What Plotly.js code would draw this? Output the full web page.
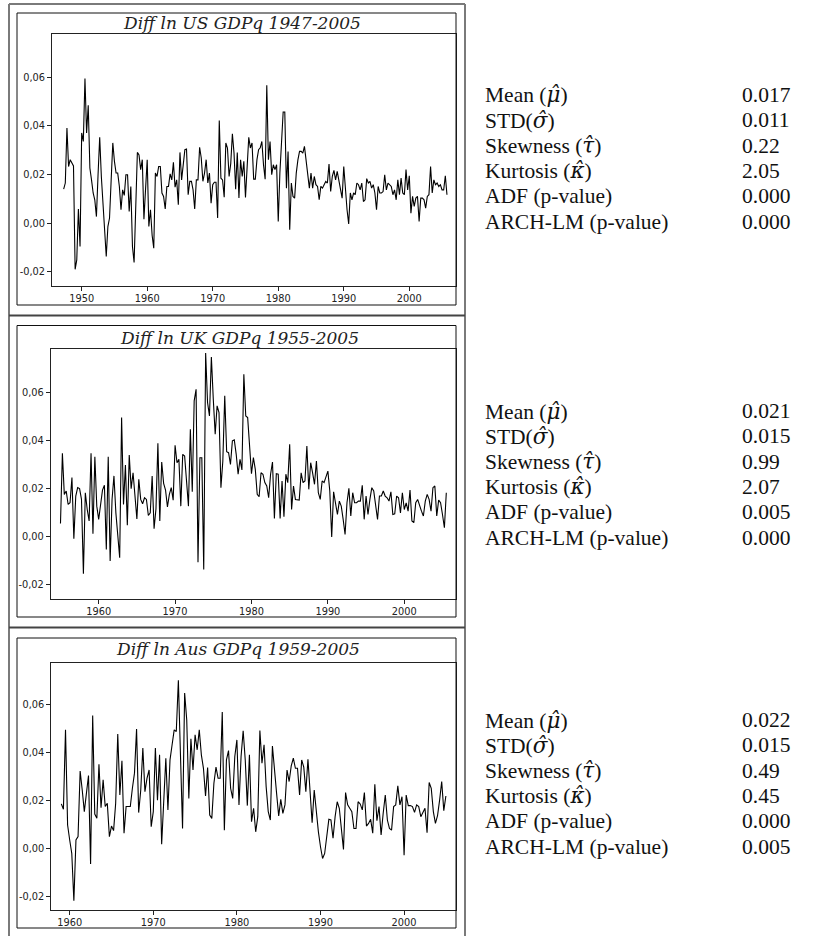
<!DOCTYPE html>
<html>
<head>
<meta charset="utf-8">
<script src="https://cdn.plot.ly/plotly-3.0.1.min.js"></script>
<style>html,body{margin:0;padding:0;background:#fff;}#chart{width:830px;height:936px;}</style>
</head>
<body>
<div id="chart"></div>
<script>
// ---------- DATA ----------
const titles = ["Diff ln US GDPq 1947-2005", "Diff ln UK GDPq 1955-2005", "Diff ln Aus GDPq 1959-2005"];
const startYears = [1947.25, 1955.0, 1959.0];

const usGdp = [
  0.0140, 0.0165, 0.0391, 0.0233, 0.0261, 0.0247, 0.0235, -0.0190, -0.0151, 0.0058,
  -0.0096, 0.0371, 0.0336, 0.0595, 0.0371, 0.0485, 0.0227, 0.0178, 0.0124, 0.0096,
  0.0027, 0.0200, 0.0353, 0.0192, 0.0069, -0.0041, -0.0137, -0.0014, 0.0021, 0.0178,
  0.0330, 0.0254, 0.0206, 0.0206, 0.0151, 0.0055, 0.0137, 0.0114, 0.0199, 0.0199,
  0.0048, 0.0151, -0.0096, -0.0162, 0.0096, 0.0291, 0.0281, 0.0220, 0.0261, 0.0016,
  0.0140, 0.0261, -0.0014, 0.0055, -0.0050, -0.0103, 0.0206, 0.0192, 0.0233, 0.0233,
  0.0124, 0.0110, 0.0058, 0.0151, 0.0151, 0.0203, 0.0178, 0.0250, 0.0148, 0.0178,
  0.0076, 0.0291, 0.0178, 0.0247, 0.0302, 0.0305, 0.0117, 0.0172, 0.0172, 0.0137,
  0.0058, 0.0178, 0.0178, 0.0312, 0.0268, 0.0172, 0.0206, 0.0261, 0.0165, 0.0206,
  0.0082, 0.0158, 0.0168, 0.0168, 0.0021, 0.0422, 0.0185, 0.0178, 0.0107, 0.0330,
  0.0309, 0.0192, 0.0245, 0.0368, 0.0288, 0.0140, 0.0291, 0.0103, 0.0261, 0.0192,
  0.0254, 0.0106, 0.0220, 0.0353, 0.0309, 0.0330, 0.0181, 0.0181, 0.0261, 0.0302,
  0.0310, 0.0336, 0.0240, 0.0181, 0.0567, 0.0261, 0.0336, 0.0199, 0.0240, 0.0220,
  0.0240, 0.0007, 0.0206, 0.0330, 0.0457, 0.0457, 0.0144, 0.0295, -0.0027, 0.0165,
  0.0110, 0.0103, 0.0206, 0.0260, 0.0295, 0.0295, 0.0288, 0.0316, 0.0254, 0.0213,
  0.0144, 0.0206, 0.0144, 0.0192, 0.0158, 0.0151, 0.0096, 0.0151, 0.0144, 0.0158,
  0.0172, 0.0165, 0.0243, 0.0130, 0.0192, 0.0217, 0.0178, 0.0213, 0.0172, 0.0137,
  0.0103, 0.0233, 0.0137, 0.0055, -0.0003, 0.0124, 0.0096, 0.0124, 0.0117, 0.0165,
  0.0158, 0.0137, 0.0165, 0.0089, 0.0096, 0.0183, 0.0165, 0.0172, 0.0144, 0.0158,
  0.0124, 0.0055, 0.0151, 0.0124, 0.0124, 0.0130, 0.0199, 0.0137, 0.0165, 0.0158,
  0.0151, 0.0117, 0.0137, 0.0096, 0.0178, 0.0117, 0.0185, 0.0124, 0.0117, 0.0220,
  0.0137, 0.0195, 0.0041, 0.0110, 0.0069, 0.0103, 0.0110, 0.0007, 0.0103, 0.0103,
  0.0096, 0.0062, 0.0110, 0.0117, 0.0233, 0.0124, 0.0178, 0.0158, 0.0165, 0.0151,
  0.0158, 0.0137, 0.0137, 0.0195, 0.0117
];

const ukGdp = [
  0.0053, 0.0345, 0.0174, 0.0188, 0.0132, 0.0139, 0.0244, -0.0011, 0.0167, 0.0202,
  0.0198, 0.0153, -0.0157, 0.0181, 0.0111, 0.0063, 0.0345, 0.0010, 0.0331, 0.0125,
  0.0070, 0.0139, 0.0192, 0.0212, -0.0056, 0.0331, -0.0104, 0.0153, 0.0251, 0.0097,
  0.0014, -0.0090, 0.0494, 0.0132, 0.0296, 0.0045, 0.0338, 0.0198, 0.0264, 0.0150,
  0.0072, 0.0237, 0.0153, 0.0135, 0.0160, 0.0153, 0.0086, 0.0097, 0.0251, 0.0031,
  0.0114, 0.0387, 0.0063, 0.0309, 0.0220, 0.0192, 0.0122, 0.0174, 0.0202, 0.0150,
  0.0379, 0.0306, 0.0320, 0.0125, 0.0341, 0.0334, 0.0237, 0.0125, 0.0445, 0.0185,
  0.0564, 0.0612, -0.0109, 0.0327, 0.0327, -0.0139, 0.0763, 0.0557, 0.0501, 0.0747,
  0.0571, 0.0425, 0.0543, 0.0515, 0.0202, 0.0313, 0.0585, 0.0352, 0.0348, 0.0299,
  0.0397, 0.0401, 0.0341, 0.0258, 0.0320, 0.0276, 0.0675, 0.0501, 0.0494, 0.0369,
  0.0260, 0.0327, 0.0278, 0.0174, 0.0164, 0.0264, 0.0258, 0.0223, 0.0209, 0.0160,
  0.0258, 0.0309, 0.0074, 0.0260, 0.0258, 0.0074, 0.0230, 0.0081, 0.0258, 0.0223,
  0.0383, 0.0111, 0.0209, 0.0153, 0.0153, 0.0150, 0.0264, 0.0223, 0.0230, 0.0376,
  0.0195, 0.0306, 0.0264, 0.0216, 0.0313, 0.0181, 0.0153, 0.0230, 0.0223, 0.0251,
  0.0271, 0.0188, -0.0004, 0.0185, 0.0132, 0.0090, 0.0146, 0.0125, 0.0070, 0.0007,
  0.0139, 0.0199, 0.0084, 0.0181, 0.0139, 0.0139, 0.0146, 0.0146, 0.0212, 0.0070,
  0.0167, 0.0090, 0.0153, 0.0202, 0.0188, 0.0118, 0.0070, 0.0167, 0.0167, 0.0188,
  0.0167, 0.0160, 0.0146, 0.0185, 0.0090, 0.0093, 0.0167, 0.0160, 0.0097, 0.0181,
  0.0111, 0.0139, 0.0104, 0.0192, 0.0063, 0.0056, 0.0139, 0.0153, 0.0125, 0.0104,
  0.0084, 0.0146, 0.0174, 0.0153, 0.0104, 0.0202, 0.0209, 0.0084, 0.0150, 0.0139,
  0.0090, 0.0035, 0.0181
];

const ausGdp = [
  0.0185, 0.0163, 0.0493, 0.0097, 0.0035, -0.0021, -0.0218, 0.0035, 0.0049, 0.0322,
  0.0243, 0.0153, 0.0229, 0.0303, -0.0065, 0.0553, 0.0143, 0.0125, 0.0350, 0.0169,
  0.0285, 0.0174, 0.0188, 0.0049, 0.0093, 0.0074, 0.0188, 0.0476, 0.0222, 0.0364,
  0.0063, 0.0174, 0.0174, 0.0174, 0.0250, 0.0313, 0.0496, 0.0149, 0.0243, 0.0417,
  0.0236, 0.0292, 0.0326, 0.0090, 0.0153, 0.0417, 0.0200, 0.0389, 0.0017, 0.0181,
  0.0375, 0.0160, 0.0368, 0.0431, 0.0493, 0.0486, 0.0699, 0.0390, 0.0083, 0.0646,
  0.0535, 0.0208, 0.0456, 0.0326, 0.0472, 0.0410, 0.0493, 0.0389, 0.0333, 0.0218,
  0.0336, 0.0139, 0.0125, 0.0271, 0.0338, 0.0292, 0.0292, 0.0567, 0.0076, 0.0368,
  0.0407, 0.0250, 0.0208, 0.0382, 0.0451, 0.0181, 0.0382, 0.0489, 0.0368, 0.0178,
  0.0389, 0.0111, 0.0167, 0.0069, 0.0132, 0.0490, 0.0354, 0.0431, 0.0257, 0.0153,
  0.0118, 0.0426, 0.0340, 0.0229, 0.0135, 0.0204, 0.0146, 0.0181, 0.0326, 0.0278,
  0.0343, 0.0375, 0.0333, 0.0333, 0.0222, 0.0368, 0.0338, 0.0236, 0.0371, 0.0250,
  0.0107, 0.0243, 0.0153, 0.0069, 0.0007, -0.0042, -0.0021, 0.0049, 0.0121, 0.0118,
  0.0042, 0.0132, 0.0194, 0.0167, 0.0090, -0.0004, 0.0232, 0.0181, 0.0167, 0.0153,
  0.0083, 0.0083, 0.0194, 0.0185, 0.0160, 0.0232, 0.0093, 0.0104, 0.0121, 0.0063,
  0.0267, 0.0115, 0.0174, 0.0056, 0.0146, 0.0222, 0.0118, 0.0083, 0.0076, 0.0174,
  0.0181, 0.0260, 0.0181, 0.0215, -0.0028, 0.0222, 0.0178, 0.0178, 0.0174, 0.0150,
  0.0181, 0.0174, 0.0132, 0.0153, 0.0167, 0.0065, 0.0274, 0.0250, 0.0153, 0.0104,
  0.0136, 0.0201, 0.0278, 0.0157, 0.0218
];

const yTickVals = [-0.02, 0.00, 0.02, 0.04, 0.06];
const yTickText = ["-0,02", "0,00", "0,02", "0,04", "0,06"];
const xTickVals = [1950, 1960, 1970, 1980, 1990, 2000];
const xTickText = ["1950", "1960", "1970", "1980", "1990", "2000"];

const G = s => '<span style="font-family:DejaVu Serif">' + s + '</span>';
const statLabels = ["Mean (" + G("<i>μ̂</i>") + ")", "STD(" + G("<i>σ̂</i>") + ")", "Skewness (" + G("<i>τ̂</i>") + ")",
                    "Kurtosis (" + G("<i>κ̂</i>") + ")", "ADF (p-value)", "ARCH-LM (p-value)"];
const usStats  = ["0.017", "0.011", "0.22", "2.05", "0.000", "0.000"];
const ukStats  = ["0.021", "0.015", "0.99", "2.07", "0.005", "0.000"];
const ausStats = ["0.022", "0.015", "0.49", "0.45", "0.000", "0.005"];

// ---------- LAYOUT ----------
const W = 830, H = 936;
const px = v => v / W;
const py = v => 1 - v / H;

const series = [usGdp, ukGdp, ausGdp];
const stats = [usStats, ukStats, ausStats];
// plot areas in pixels [left, right, top, bottom]
const boxes = [[52, 456, 34, 285.5], [50.7, 456, 349, 598.5], [51.3, 456, 662.5, 909.5]];
const xRanges = [[1945.47, 2007.13], [1953.72, 2006.77], [1957.80, 2006.21]];
const yRanges = [[-0.02565, 0.0778], [-0.0260, 0.0780], [-0.0254, 0.0773]];
const frames = [[17, 456, 13, 305], [17, 456, 325.5, 617], [17, 456, 638, 928]];
const titleY = [23, 338, 649];
const titleX = [242, 239, 238];
const statTop = [95, 411, 720];
const statStep = 25.3;

const traces = [];
const layout = {
  width: W, height: H,
  margin: {l: 0, r: 0, t: 0, b: 0},
  paper_bgcolor: "#fff", plot_bgcolor: "#fff",
  showlegend: false,
  annotations: [], shapes: []
};

series.forEach((vals, i) => {
  const sfx = i === 0 ? "" : String(i + 1);
  const xs = vals.map((_, k) => startYears[i] + k / 4);
  traces.push({
    type: "scatter", mode: "lines", x: xs, y: vals,
    xaxis: "x" + sfx, yaxis: "y" + sfx,
    line: {color: "#000", width: 1.1}, hoverinfo: "skip"
  });
  const b = boxes[i];
  const axCommon = {
    showgrid: false, zeroline: false, showline: true, mirror: true,
    linecolor: "#222", linewidth: 1, ticks: "outside", ticklen: 4, tickcolor: "#222",
    tickfont: {family: "DejaVu Sans, Verdana, sans-serif", size: 9.8, color: "#222"}
  };
  layout["xaxis" + sfx] = Object.assign({}, axCommon, {
    domain: [px(b[0]), px(b[1])], range: xRanges[i], anchor: "y" + sfx,
    tickmode: "array", tickvals: xTickVals, ticktext: xTickText
  });
  layout["yaxis" + sfx] = Object.assign({}, axCommon, {
    domain: [py(b[3]), py(b[2])], range: yRanges[i], anchor: "x" + sfx,
    tickmode: "array", tickvals: yTickVals, ticktext: yTickText
  });
  // inner black frame
  const f = frames[i];
  layout.shapes.push({type: "rect", xref: "paper", yref: "paper",
    x0: px(f[0]), x1: px(f[1]), y0: py(f[3]), y1: py(f[2]),
    line: {color: "#111", width: 1}, layer: "above"});
  // title
  layout.annotations.push({
    xref: "paper", yref: "paper", x: px(titleX[i]), y: py(titleY[i]),
    xanchor: "center", yanchor: "middle", showarrow: false,
    text: "<i>" + titles[i] + "</i>",
    font: {family: "DejaVu Serif, serif", size: 17, color: "#222"}
  });
  // stats
  statLabels.forEach((lab, j) => {
    const yy = py(statTop[i] + j * statStep);
    layout.annotations.push({xref: "paper", yref: "paper", x: px(483), y: yy,
      xanchor: "left", yanchor: "middle", showarrow: false, text: lab,
      font: {family: "Liberation Serif, serif", size: 21.5, color: "#111"}});
    layout.annotations.push({xref: "paper", yref: "paper", x: px(740), y: yy,
      xanchor: "left", yanchor: "middle", showarrow: false, text: stats[i][j],
      font: {family: "Liberation Serif, serif", size: 21.5, color: "#111"}});
  });
});

// outer table lines
const grey = "#7a7a7a";
layout.shapes.push({type: "line", xref: "paper", yref: "paper", x0: px(9), x1: px(9), y0: 0, y1: py(4), line: {color: grey, width: 2}});
layout.shapes.push({type: "line", xref: "paper", yref: "paper", x0: px(465), x1: px(465), y0: 0, y1: py(4), line: {color: grey, width: 2}});
layout.shapes.push({type: "line", xref: "paper", yref: "paper", x0: px(9), x1: px(465), y0: py(4), y1: py(4), line: {color: grey, width: 2}});
layout.shapes.push({type: "line", xref: "paper", yref: "paper", x0: px(9), x1: px(465), y0: py(315.5), y1: py(315.5), line: {color: "#444", width: 2}});
layout.shapes.push({type: "line", xref: "paper", yref: "paper", x0: px(9), x1: px(465), y0: py(627.5), y1: py(627.5), line: {color: "#444", width: 2}});

Plotly.newPlot("chart", traces, layout, {staticPlot: true, displayModeBar: false});
</script>
</body>
</html>
